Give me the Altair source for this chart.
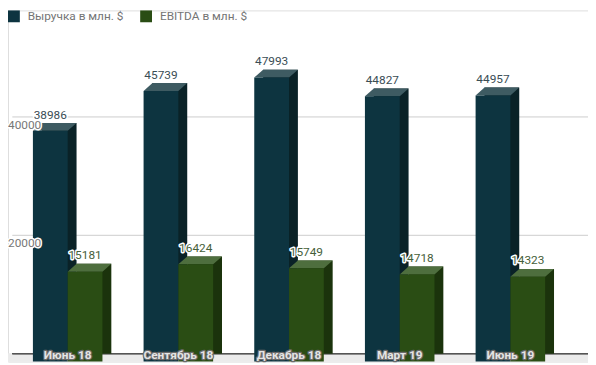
import altair as alt
import pandas as pd

# ---- data ----
categories = ["Июнь 18", "Сентябрь 18", "Декабрь 18", "Март 19", "Июнь 19"]
revenue = [38986, 45739, 47993, 44827, 44957]
ebitda = [15181, 16424, 15749, 14718, 14323]
series_names = ["Выручка в млн. $", "EBITDA в млн. $"]
y_ticks = [20000, 40000]

# ---- styling ----
FONT = "Roboto"
BLUE, BLUE_TOP, BLUE_SIDE = "#0d3440", "#3e5b62", "#0a2227"
GREEN, GREEN_TOP, GREEN_SIDE = "#2a4d14", "#4e6e3e", "#1b330c"
W, H = 588, 356
PX_PER_UNIT = 0.006
BAR_W = 35.25
DX, DY = 9, 8
HALF = BAR_W / 2

df = pd.DataFrame({"cat": categories, "rev": revenue, "ebitda": ebitda})
grid_df = pd.DataFrame({"v": y_ticks})

xscale = alt.Scale(domain=categories, range=[4.4, 565.4], paddingInner=0, paddingOuter=0)
yscale = alt.Scale(domain=[0, H / PX_PER_UNIT], nice=False, zero=True)
X = alt.X("cat:N", sort=categories, scale=xscale, axis=None)

# top-face parallelogram as a custom symbol (unit box [-1,1])
box = BAR_W + DX
fx = -1 + 2 * BAR_W / box
bx = -1 + 2 * DX / box
hy = (DY / 2) / (box / 2)
top_shape = f"M -1 {hy:.4f} L {fx:.4f} {hy:.4f} L 1 {-hy:.4f} L {bx:.4f} {-hy:.4f} Z"
top_size = box * box

base = alt.Chart(df)

grid = alt.Chart(grid_df).mark_rule(color="#cccccc", strokeWidth=1, yOffset=-DY).encode(
    x=alt.value(4.4), x2=alt.value(W),
    y=alt.Y("v:Q", scale=yscale, axis=None),
)
floor = alt.Chart(df).mark_rect(color="#ebebeb", yOffset=-DY).encode(
    x=alt.value(0), x2=alt.value(W), y=alt.datum(0), y2=alt.datum(0)
)
baseline = alt.Chart(df).mark_rule(color="#555555", strokeWidth=1, yOffset=-DY).encode(
    x=alt.value(4.4), x2=alt.value(W), y=alt.datum(0)
)

color_scale = alt.Scale(domain=series_names, range=[BLUE, GREEN])
legend = alt.Legend(title=None, orient="none", legendX=0, legendY=0,
                    direction="horizontal", symbolType="square",
                    symbolSize=144, symbolStrokeWidth=0,
                    labelFontSize=12, labelColor="#757575", labelFont=FONT,
                    labelOffset=8, columnPadding=16)


def bar3d(field, off, top, side, name):
    yenc = alt.Y(f"{field}:Q", scale=yscale)
    back = base.mark_bar(width=BAR_W, xOffset=off + DX, yOffset=-DY, color=side).encode(x=X, y=yenc)
    topf = base.mark_point(shape=top_shape, size=top_size, filled=True, fill=top, strokeWidth=0,
                           opacity=1, xOffset=off + DX / 2, yOffset=-DY / 2).encode(x=X, y=yenc)
    frontb = base.transform_calculate(series=f"'{name}'").mark_bar(
        width=BAR_W, xOffset=off, opacity=1).encode(
        x=X, y=yenc, color=alt.Color("series:N", scale=color_scale, legend=legend))
    return [back, topf, frontb]


def value_labels(field, off, color):
    yenc = alt.Y(f"{field}:Q", scale=yscale)
    common = dict(xOffset=off, yOffset=-DY - 4.5, baseline="alphabetic", align="center",
                  fontSize=12, font=FONT)
    halo = base.mark_text(stroke="white", strokeWidth=3, fill="white", strokeJoin="round", **common).encode(
        x=X, y=yenc, text=alt.Text(f"{field}:Q", format="d"))
    txt = base.mark_text(fill=color, **common).encode(
        x=X, y=yenc, text=alt.Text(f"{field}:Q", format="d"))
    return [halo, txt]


# y-axis tick labels (drawn over the bars, with a white halo, as in the reference)
ylab_common = dict(align="left", baseline="middle", fontSize=12, font=FONT)
ylab_halo = alt.Chart(grid_df).mark_text(stroke="white", strokeWidth=3, fill="white",
                                         strokeJoin="round", **ylab_common).encode(
    x=alt.value(0), y=alt.Y("v:Q", scale=yscale), text=alt.Text("v:Q", format="d"))
ylab_txt = alt.Chart(grid_df).mark_text(fill="#777777", **ylab_common).encode(
    x=alt.value(0), y=alt.Y("v:Q", scale=yscale), text=alt.Text("v:Q", format="d"))

cat_common = dict(yOffset=-2.5, baseline="alphabetic", align="center", fontSize=12, font=FONT,
                  fontWeight="bold")
cat_halo = base.mark_text(stroke="#6a6a6a", strokeWidth=2.5, fill="#6a6a6a", strokeJoin="round",
                          **cat_common).encode(x=X, y=alt.datum(0), text="cat:N")
cat_txt = base.mark_text(fill="#e4e4e4", **cat_common).encode(x=X, y=alt.datum(0), text="cat:N")

layers = [grid, floor, baseline]
layers += bar3d("rev", -HALF, BLUE_TOP, BLUE_SIDE, series_names[0])
layers += bar3d("ebitda", HALF, GREEN_TOP, GREEN_SIDE, series_names[1])
layers += value_labels("rev", -HALF, "#3a4d55")
layers += value_labels("ebitda", HALF, "#46603a")
layers += [ylab_halo, ylab_txt, cat_halo, cat_txt]

chart = alt.layer(*layers).properties(
    width=W, height=H, autosize=alt.AutoSizeParams(type="none"), padding=0
).configure_view(stroke=None).configure(font=FONT)

chart.save("out.html", embed_options={"renderer": "svg", "actions": False})
